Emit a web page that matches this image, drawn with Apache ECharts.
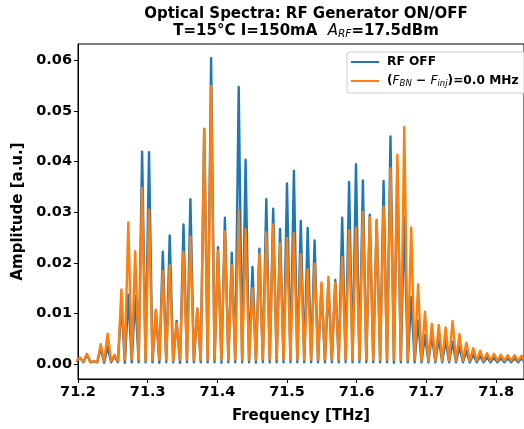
<!DOCTYPE html>
<html>
<head>
<meta charset="utf-8">
<script src="https://cdn.jsdelivr.net/npm/echarts@6/dist/echarts.min.js"></script>
<style>
html,body{margin:0;padding:0;background:#fff;}
#chart{width:524px;height:429px;}
</style>
</head>
<body>
<div id="chart"></div>
<script>
// Comb-line (peak) frequencies in THz
var peakFreqs = [
  71.2029, 71.2128, 71.2227, 71.2326, 71.2425, 71.2524, 71.2623, 71.2722, 71.2821, 71.2920,
  71.3019, 71.3118, 71.3217, 71.3316, 71.3415, 71.3514, 71.3613, 71.3712, 71.3811, 71.3910,
  71.4009, 71.4108, 71.4207, 71.4306, 71.4405, 71.4504, 71.4603, 71.4702, 71.4801, 71.4900,
  71.4999, 71.5098, 71.5197, 71.5296, 71.5395, 71.5494, 71.5593, 71.5692, 71.5791, 71.5890,
  71.5989, 71.6088, 71.6187, 71.6286, 71.6385, 71.6484, 71.6583, 71.6682, 71.6781, 71.6880,
  71.6979, 71.7078, 71.7177, 71.7276, 71.7375, 71.7474, 71.7573, 71.7672, 71.7771, 71.7870,
  71.7969, 71.8068, 71.8167, 71.8266, 71.8365
];
// Peak amplitudes, RF OFF (blue)
var rfOffPeaks = [
  0.0012, 0.0019, 0.0005, 0.0031, 0.0034, 0.0015, 0.0122, 0.0137, 0.0135, 0.0420,
  0.0419, 0.0105, 0.0222, 0.0254, 0.0085, 0.0276, 0.0326, 0.0109, 0.0465, 0.0605,
  0.0231, 0.0289, 0.0220, 0.0548, 0.0404, 0.0192, 0.0228, 0.0326, 0.0307, 0.0267,
  0.0357, 0.0382, 0.0283, 0.0269, 0.0244, 0.0155, 0.0160, 0.0166, 0.0289, 0.0360,
  0.0395, 0.0363, 0.0295, 0.0285, 0.0362, 0.0450, 0.0390, 0.0291, 0.0132, 0.0086,
  0.0057, 0.0057, 0.0051, 0.0047, 0.0044, 0.0034, 0.0025, 0.0018, 0.0015, 0.0013,
  0.0012, 0.0011, 0.0011, 0.0011, 0.0011
];
// Peak amplitudes, (F_BN - F_inj) = 0.0 MHz (orange)
var rfOnPeaks = [
  0.0012, 0.0020, 0.0005, 0.0039, 0.0060, 0.0018, 0.0147, 0.0280, 0.0223, 0.0348,
  0.0305, 0.0107, 0.0184, 0.0195, 0.0080, 0.0222, 0.0252, 0.0109, 0.0465, 0.0550,
  0.0224, 0.0262, 0.0195, 0.0303, 0.0267, 0.0150, 0.0218, 0.0260, 0.0276, 0.0238,
  0.0249, 0.0259, 0.0217, 0.0187, 0.0198, 0.0161, 0.0172, 0.0161, 0.0211, 0.0265,
  0.0270, 0.0300, 0.0290, 0.0285, 0.0311, 0.0387, 0.0414, 0.0469, 0.0270, 0.0157,
  0.0103, 0.0079, 0.0077, 0.0072, 0.0085, 0.0059, 0.0042, 0.0031, 0.0026, 0.0021,
  0.0020, 0.0018, 0.0017, 0.0017, 0.0016
];
// Minimum between each peak and the previous one (last entry: after the last peak)
var rfOffTroughs = [
  0.0006, 0.0003, 0.0003, 0.0003, 0.0002, 0.0003, 0.0003, 0.0002, 0.0003, 0.0003,
  0.0003, 0.0003, 0.0002, 0.0003, 0.0003, 0.0002, 0.0003, 0.0003, 0.0003, 0.0003,
  0.0003, 0.0002, 0.0003, 0.0003, 0.0003, 0.0003, 0.0002, 0.0003, 0.0003, 0.0003,
  0.0003, 0.0003, 0.0003, 0.0003, 0.0003, 0.0003, 0.0003, 0.0003, 0.0003, 0.0003,
  0.0003, 0.0003, 0.0003, 0.0003, 0.0003, 0.0003, 0.0002, 0.0003, 0.0003, 0.0003,
  0.0003, 0.0003, 0.0003, 0.0003, 0.0003, 0.0003, 0.0003, 0.0003, 0.0003, 0.0003,
  0.0003, 0.0003, 0.0003, 0.0003, 0.0003, 0.0003
];
var rfOnTroughs = [
  0.0007, 0.0004, 0.0004, 0.0004, 0.0005, 0.0005, 0.0005, 0.0008, 0.0009, 0.0008,
  0.0006, 0.0008, 0.0008, 0.0007, 0.0006, 0.0008, 0.0008, 0.0007, 0.0008, 0.0008,
  0.0008, 0.0008, 0.0008, 0.0008, 0.0008, 0.0008, 0.0008, 0.0008, 0.0008, 0.0008,
  0.0008, 0.0008, 0.0008, 0.0008, 0.0008, 0.0008, 0.0008, 0.0008, 0.0008, 0.0008,
  0.0008, 0.0008, 0.0008, 0.0008, 0.0008, 0.0008, 0.0008, 0.0008, 0.0007, 0.0007,
  0.0006, 0.0006, 0.0006, 0.0006, 0.0006, 0.0006, 0.0006, 0.0006, 0.0006, 0.0006,
  0.0006, 0.0006, 0.0006, 0.0006, 0.0006, 0.0006
];
var xTicks = [71.2, 71.3, 71.4, 71.5, 71.6, 71.7, 71.8];
var yTicks = [0.00, 0.01, 0.02, 0.03, 0.04, 0.05, 0.06];

function buildLine(peaks, troughs) {
  var pts = [];
  var n = peakFreqs.length;
  for (var i = 0; i < n; i++) {
    var prev = i > 0 ? peakFreqs[i - 1] : peakFreqs[0] - (peakFreqs[1] - peakFreqs[0]);
    pts.push([(prev + peakFreqs[i]) / 2, troughs[i]]);
    pts.push([peakFreqs[i], peaks[i]]);
  }
  var last = peakFreqs[n - 1] + (peakFreqs[n - 1] - peakFreqs[n - 2]) / 2;
  pts.push([last, troughs[n]]);
  return pts;
}

var FONT = 'DejaVu Sans';
var chart = echarts.init(document.getElementById('chart'), null, {renderer: 'canvas'});
var onName = '(F_BN - F_inj)=0.0 MHz';

chart.setOption({
  animation: false,
  backgroundColor: '#fff',
  title: {
    left: 301,
    top: 1,
    textAlign: 'center',
    itemGap: 0,
    text: '{b|Optical Spectra: RF Generator ON/OFF}\n{b|T=15°C I=150mA  }{i|A}{s|RF}{b|=17.5dBm}',
    textStyle: {
      rich: {
        b: {fontFamily: FONT, fontWeight: 'bold', fontSize: 15, color: '#000', lineHeight: 17},
        i: {fontFamily: FONT, fontStyle: 'italic', fontWeight: 'normal', fontSize: 15, color: '#000', lineHeight: 17},
        s: {fontFamily: FONT, fontStyle: 'italic', fontWeight: 'normal', fontSize: 10.5, color: '#000', lineHeight: 12, verticalAlign: 'bottom'}
      }
    }
  },
  legend: {
    orient: 'vertical',
    left: 347,
    top: 52,
    padding: [4, 10, 5, 4],
    itemGap: 7,
    itemWidth: 28,
    itemHeight: 2,
    icon: 'rect',
    backgroundColor: 'rgba(255,255,255,0.8)',
    borderColor: '#cccccc',
    borderWidth: 1,
    borderRadius: 3,
    data: ['RF OFF', onName],
    formatter: function (name) {
      if (name === 'RF OFF') return '{b|RF OFF}';
      return '{b|(}{i|F}{s|BN}{b| − }{i|F}{s|inj}{b|)=0.0 MHz}';
    },
    textStyle: {
      padding: [0, 0, 0, 3],
      rich: {
        b: {fontFamily: FONT, fontWeight: 'bold', fontSize: 12.2, color: '#000', lineHeight: 14},
        i: {fontFamily: FONT, fontStyle: 'italic', fontWeight: 'normal', fontSize: 12.2, color: '#000', lineHeight: 14},
        s: {fontFamily: FONT, fontStyle: 'italic', fontWeight: 'normal', fontSize: 8.5, color: '#000', lineHeight: 10, verticalAlign: 'bottom'}
      }
    }
  },
  grid: {
    left: 78, top: 44, width: 448, height: 340,
    show: true, borderColor: '#000', borderWidth: 1, backgroundColor: 'transparent'
  },
  xAxis: {
    type: 'value',
    min: 71.2,
    max: 71.84,
    name: 'Frequency [THz]',
    nameLocation: 'middle',
    nameGap: 30,
    nameTextStyle: {fontFamily: FONT, fontWeight: 'bold', fontSize: 15, color: '#000', align: 'center'},
    axisLine: {show: true, onZero: false, lineStyle: {color: '#000', width: 1}},
    axisTick: {show: true, inside: false, length: 4, lineStyle: {color: '#000', width: 1}, customValues: xTicks},
    axisLabel: {
      show: true, margin: 6, color: '#000', fontFamily: FONT, fontWeight: 'bold', fontSize: 14.5,
      customValues: xTicks,
      formatter: function (v) { return v.toFixed(1); }
    },
    splitLine: {show: false}
  },
  yAxis: {
    type: 'value',
    min: -0.003,
    max: 0.0633,
    name: 'Amplitude [a.u.]',
    nameLocation: 'middle',
    nameGap: 52,
    nameRotate: 90,
    nameTextStyle: {fontFamily: FONT, fontWeight: 'bold', fontSize: 15, color: '#000'},
    axisLine: {show: true, onZero: false, lineStyle: {color: '#000', width: 1}},
    axisTick: {show: true, inside: false, length: 4, lineStyle: {color: '#000', width: 1}, customValues: yTicks},
    axisLabel: {
      show: true, margin: 6, color: '#000', fontFamily: FONT, fontWeight: 'bold', fontSize: 14.5,
      customValues: yTicks,
      formatter: function (v) { return v.toFixed(2); }
    },
    splitLine: {show: false}
  },
  series: [
    {
      name: 'RF OFF',
      type: 'line',
      data: buildLine(rfOffPeaks, rfOffTroughs),
      showSymbol: false,
      symbol: 'none',
      clip: true,
      lineStyle: {color: '#1f77b4', width: 2.4, join: 'round', cap: 'round'},
      itemStyle: {color: '#1f77b4'}
    },
    {
      name: onName,
      type: 'line',
      data: buildLine(rfOnPeaks, rfOnTroughs),
      showSymbol: false,
      symbol: 'none',
      clip: true,
      lineStyle: {color: '#ff7f0e', width: 2.4, join: 'round', cap: 'round'},
      itemStyle: {color: '#ff7f0e'}
    }
  ]
});
</script>
</body>
</html>
